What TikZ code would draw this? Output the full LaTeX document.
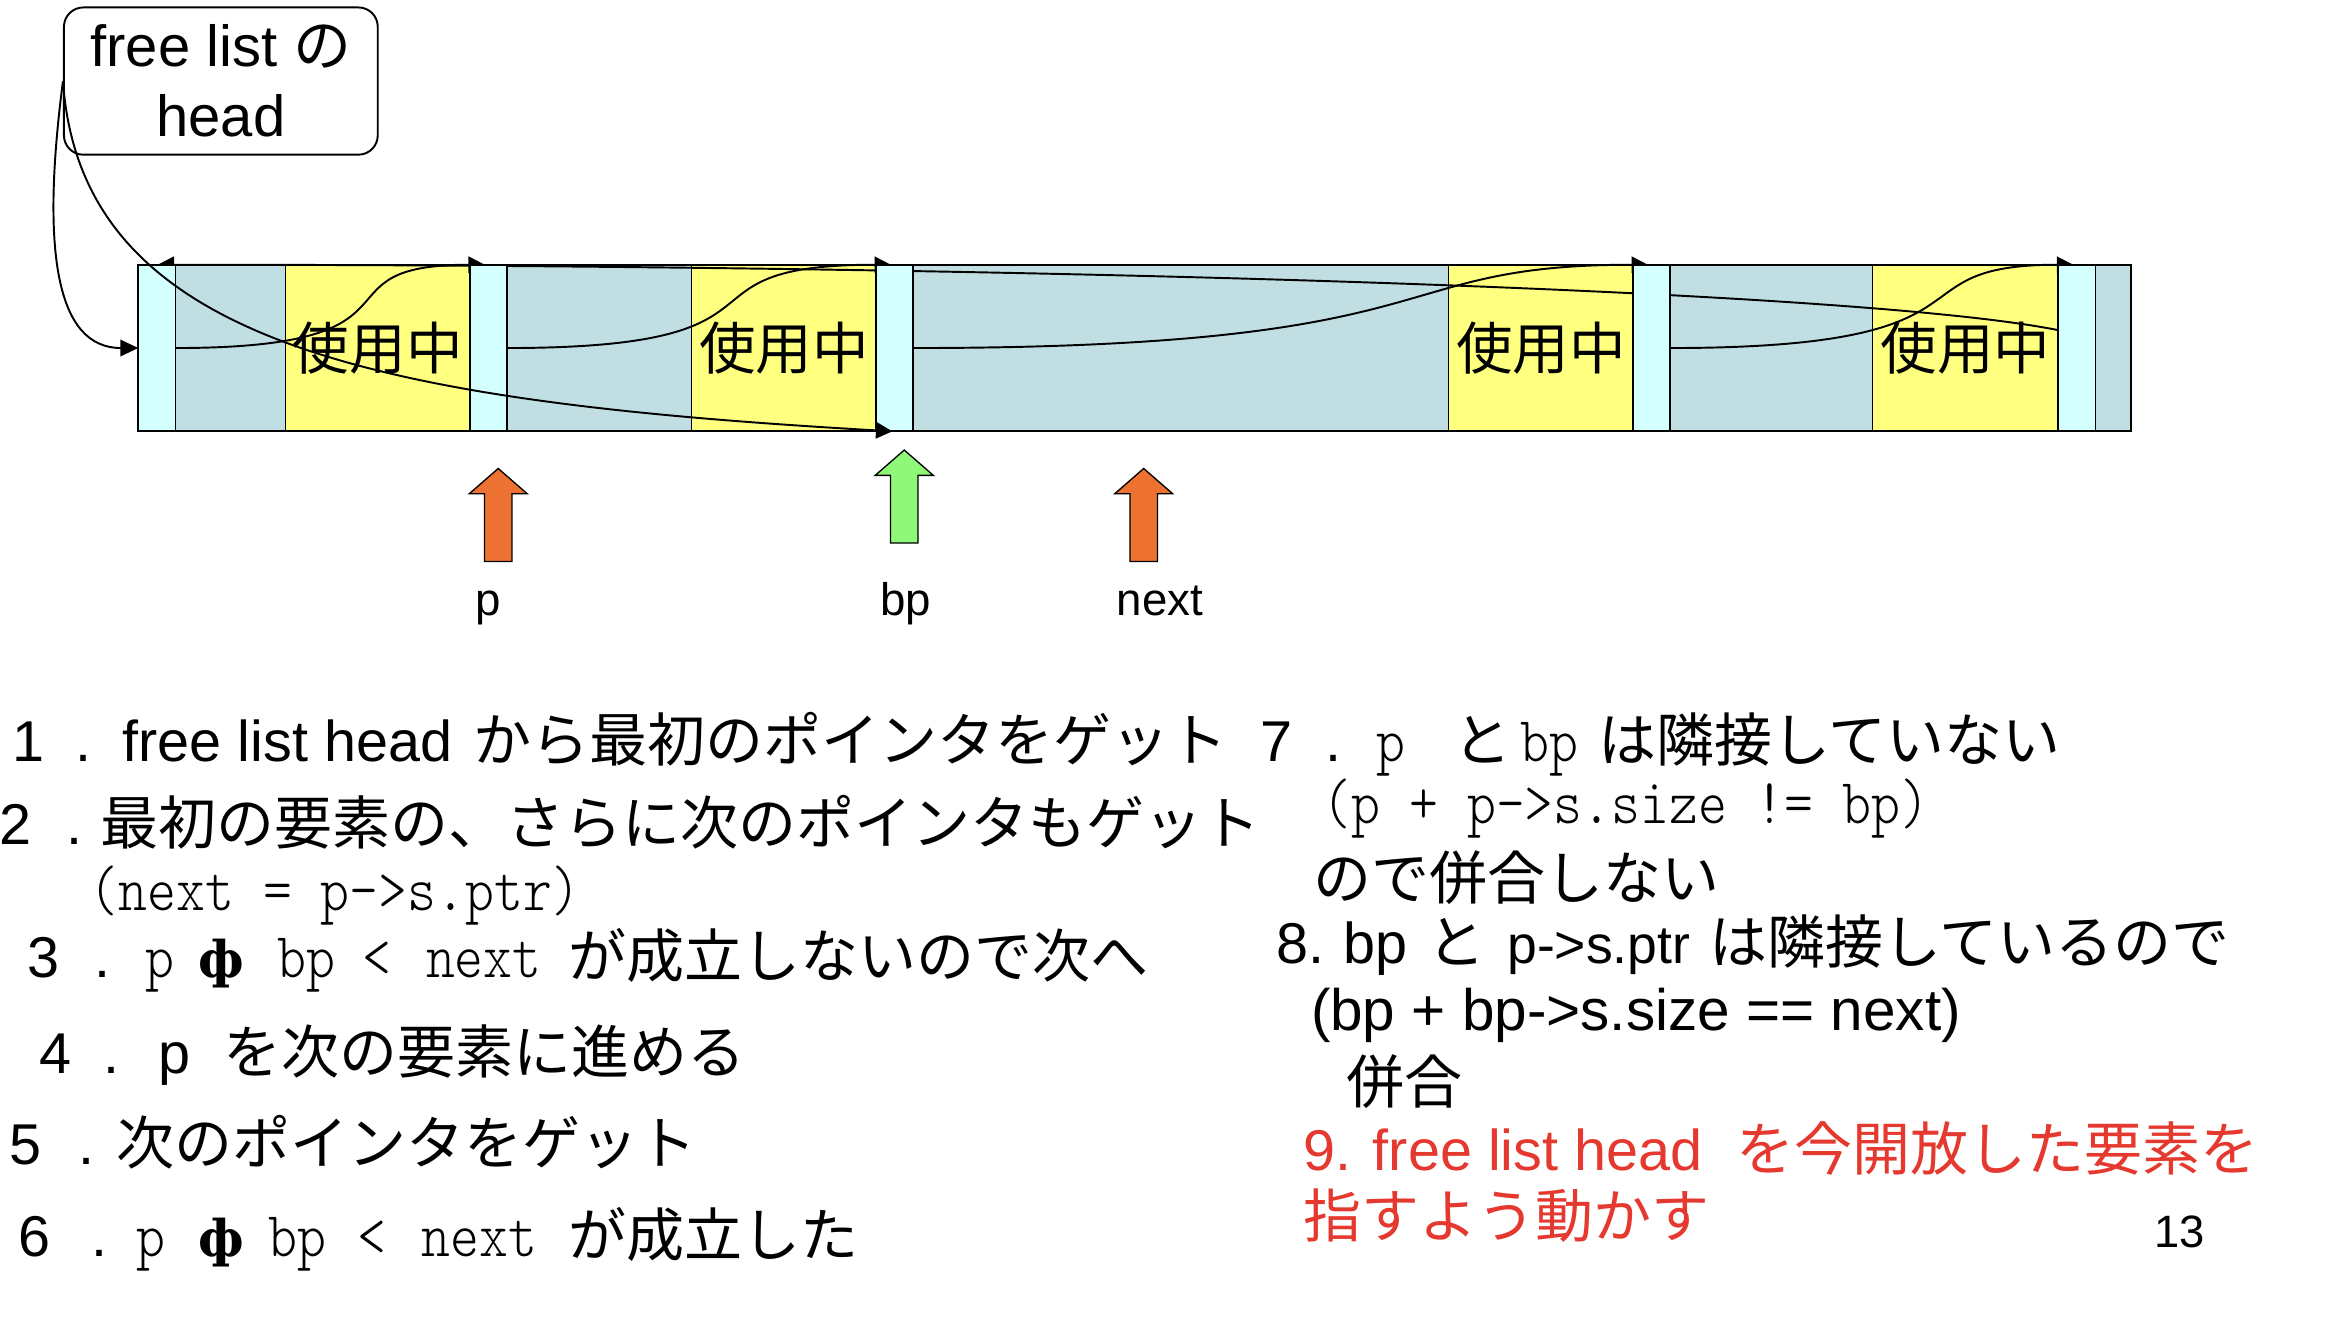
\documentclass[tikz,border=0pt]{standalone}
\usepackage{fontspec}
\setmainfont{Liberation Sans}
\newfontfamily\jpf{Noto Sans CJK JP}
\newfontfamily\lsn{Liberation Sans}
\newfontfamily\dvsf{DejaVu Serif}
\newfontfamily\mcf{lmmonolt10-regular.otf}[FakeStretch=0.86]
\usetikzlibrary{arrows.meta,calc}
\pgfdeclarelayer{front}
\pgfsetlayers{main,front}
\definecolor{hdrC}{RGB}{212,255,255}
\definecolor{freeC}{RGB}{193,223,226}
\definecolor{usedC}{RGB}{255,255,128}
\definecolor{orgC}{RGB}{237,113,48}
\definecolor{grnC}{RGB}{144,248,120}
\definecolor{redC}{RGB}{229,57,47}
\newcommand\pc[2]{\rlap{\hspace*{#1pt}#2}}
\newcommand\fJ{\jpf\fontsize{39}{47}\selectfont}
\newcommand\fW{\lsn\fontsize{38.7}{46}\selectfont}
\newcommand\fN[1]{\lsn\fontsize{#1}{#1}\selectfont}
\newcommand\fM{\mcf\fontsize{43}{50}\selectfont}
\newcommand\fF{\dvsf\bfseries\fontsize{34}{40}\selectfont}
\tikzset{
  cell/.style={draw=black, line width=1.2pt, minimum height=112pt, inner sep=0pt, outer sep=0pt},
  freecell/.style={cell, fill=freeC},
  usedcell/.style={cell, fill=usedC, font=\jpf\fontsize{38}{40}\selectfont},
  hdrcell/.style={cell, fill=hdrC},
  conn/.style={line width=1.3pt, black},
  tipto/.style={-{Triangle[length=11pt,width=11pt]}},
  txt/.style={anchor=base west, inner sep=0pt, outer sep=0pt},
  lbl/.style={anchor=base, inner sep=0pt, font=\fN{30.7}},
  uparrow/.pic={\path[pic actions] (-9.25,#1) -- (-9.25,17) -- (-19.5,17) -- (0,0) -- (19.5,17) -- (9.25,17) -- (9.25,#1) -- cycle;}
}
\begin{document}
\begin{tikzpicture}[x=1pt,y=-1pt]
\useasboundingbox (0,0) rectangle (1568,898);
\fill[white] (0,0) rectangle (1568,898);

% head box
\node[draw, line width=1.3pt, rounded corners=13pt, minimum width=211pt, minimum height=99pt,
      align=center, inner sep=0pt, font=\fN{39}\setlength{\baselineskip}{47pt}] (head) at (148.5,54.5)
      {free list {\jpf の}\\head};

% free and used blocks
\node[freecell, minimum width=74pt]  (g1) at (155,234) {};
\node[usedcell, minimum width=124pt] (u1) at (254,234) {使用中};
\node[freecell, minimum width=124pt] (g2) at (403,234) {};
\node[usedcell, minimum width=124pt] (u2) at (527,234) {使用中};
\node[freecell, minimum width=360pt] (g3) at (794,234) {};
\node[usedcell, minimum width=124pt] (u3) at (1036,234) {使用中};
\node[freecell, minimum width=136pt] (g4) at (1191,234) {};
\node[usedcell, minimum width=125pt] (u4) at (1321.5,234) {使用中};
\node[freecell, minimum width=24pt]  (g5) at (1421,234) {};

% headers (front layer)
\begin{pgfonlayer}{front}
\node[hdrcell, minimum width=25pt] (h1) at (105.5,234) {};
\node[hdrcell, minimum width=25pt] (h2) at (328.5,234) {};
\node[hdrcell, minimum width=25pt] (h3) at (601.5,234) {};
\node[hdrcell, minimum width=25pt] (h4) at (1110.5,234) {};
\node[hdrcell, minimum width=25pt] (h5) at (1396.5,234) {};
% free list head now points to bp (drawn over the headers)
\draw[conn, tipto] (head.west) .. controls +(12,176) and +(-350,-20) .. ([xshift=11pt]h3.south west);
\end{pgfonlayer}

% connectors
\draw[conn, -{Triangle[length=12pt,width=11pt]}] (head.west) .. controls +(-15,115) and +(-55,0) .. (h1.west);
\draw[conn, tipto] (h1.east) .. controls +(180,0) and +(-120,0) .. ([xshift=10pt]h2.north west);
\draw[conn, tipto] (h2.east) .. controls +(207,0) and +(-155,0) .. ([xshift=10pt]h3.north west);
\draw[conn, tipto] (h3.east) .. controls +(371,0) and +(-183,0) .. ([xshift=10pt]h4.north west);
\draw[conn, tipto] (h4.east) .. controls +(231,0) and +(-127,0) .. ([xshift=10pt]h5.north west);
\draw[conn, tipto] ([yshift=12pt]h5.west) .. controls +(-134,-27) and +(594,0) .. ([xshift=-12pt]h1.north east);

% pointer arrows
\pic[draw=black, line width=0.9pt, fill=orgC] (parr) at (335,315) {uparrow=62.5};
\pic[draw=black, line width=0.9pt, fill=grnC] (bparr) at (608,302.6) {uparrow=62.5};
\pic[draw=black, line width=0.9pt, fill=orgC] (narr) at (769,315) {uparrow=62.5};
\node[lbl] (plbl) at (328,414) {p};
\node[lbl] (bplbl) at (609,414) {bp};
\node[lbl] (nlbl) at (780,414) {next};

% left column
\node[txt] (l1) at (0,512) {\pc{8}{\fW 1}\pc{50}{\fW .}\pc{82}{\fW free list head}\pc{318}{\fJ から最初のポインタをゲット}};
\node[txt] (l2) at (0,568) {\pc{-1}{\fW 2}\pc{44}{\fW .}\pc{67}{\fJ 最初の要素の、さらに次のポインタもゲット}};
\node[txt] (l3) at (0,612) {\pc{60}{\fM (next = p->s.ptr)}};
\node[txt] (l4) at (0,657) {\pc{18}{\fW 3}\pc{63}{\fW .}\pc{97}{\fM p}\pc{133}{\fF ф}\pc{186}{\fM bp}\pc{243}{\fM <}\pc{286}{\fM next}\pc{382}{\fJ が成立しないので次へ}};
\node[txt] (l5) at (0,722) {\pc{26}{\fW 4}\pc{69}{\fW .}\pc{106}{\fW p}\pc{150}{\fJ を次の要素に進める}};
\node[txt] (l6) at (0,783) {\pc{6}{\fW 5}\pc{52}{\fW .}\pc{78}{\fJ 次のポインタをゲット}};
\node[txt] (l7) at (0,845) {\pc{12}{\fW 6}\pc{61}{\fW .}\pc{91}{\fM p}\pc{133}{\fF ф}\pc{180}{\fM bp}\pc{240}{\fM <}\pc{283}{\fM next}\pc{382}{\fJ が成立した}};

% right column
\node[txt] (r1) at (0,512) {\pc{847}{\fW 7}\pc{891}{\fW .}\pc{925}{\fM p}\pc{977}{\fJ と}\pc{1022}{\fM bp}\pc{1074}{\fJ は隣接していない}};
\node[txt] (r2) at (0,554) {\pc{889}{\fM (p + p->s.size != bp)}};
\node[txt] (r3) at (0,605) {\pc{883}{\fJ ので併合しない}};
\node[txt] (r4) at (0,648) {\pc{858}{\fW 8.}\pc{903}{\fW bp}\pc{959}{\fJ と}\pc{1003}{\fN{36} p->s.ptr}\pc{1149}{\fJ は隣接しているので}};
\node[txt] (r5) at (0,693) {\pc{881}{\fN{39.3}(bp + bp->s.size == next)}};
\node[txt] (r6) at (0,742) {\pc{905}{\fJ 併合}};
\node[txt, text=redC] (r7) at (0,787) {\pc{876}{\fW 9. free list head}\pc{1167}{\fJ を今開放した要素を}};
\node[txt, text=redC] (r8) at (0,832) {\pc{876}{\fJ 指すよう動かす}};
\node[txt] (pg) at (0,839) {\pc{1448}{\fN{30.5}13}};
\end{tikzpicture}
\end{document}
